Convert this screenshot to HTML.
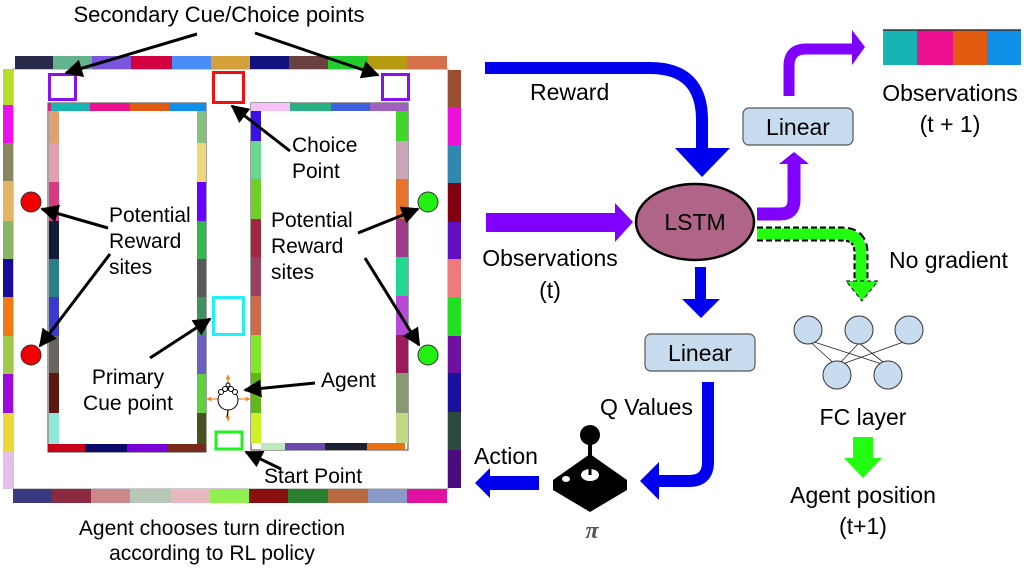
<!DOCTYPE html>
<html><head><meta charset="utf-8"><style>
html,body{margin:0;padding:0;background:#fff;}
svg{display:block;}
text{font-family:"Liberation Sans",Arial,sans-serif;fill:#000;}
</style></head><body>
<svg width="1024" height="571" viewBox="0 0 1024 571" xmlns="http://www.w3.org/2000/svg">
<defs>
<marker id="ah" viewBox="0 0 10 10" refX="9" refY="5" markerWidth="6" markerHeight="6" orient="auto-start-reverse" markerUnits="strokeWidth"><path d="M0,0 L10,5 L0,10 z" fill="#000"/></marker>
<marker id="oh" viewBox="0 0 10 10" refX="9" refY="5" markerWidth="4" markerHeight="4" orient="auto"><path d="M0,0 L10,5 L0,10 z" fill="#f08a20"/></marker>
</defs>

<rect x="13" y="69" width="435" height="420" fill="#fff" stroke="#999" stroke-width="1"/>
<g>
<rect x="15" y="56" width="38" height="13" fill="#2a2a4a"/>
<rect x="53" y="56" width="39" height="13" fill="#62b38e"/>
<rect x="92" y="56" width="39" height="13" fill="#7a55dd"/>
<rect x="131" y="56" width="41" height="13" fill="#d1003e"/>
<rect x="172" y="56" width="39" height="13" fill="#4a8cf8"/>
<rect x="211" y="56" width="39" height="13" fill="#d4a03a"/>
<rect x="250" y="56" width="39" height="13" fill="#12127e"/>
<rect x="289" y="56" width="39" height="13" fill="#6a4040"/>
<rect x="328" y="56" width="40" height="13" fill="#22cc2a"/>
<rect x="368" y="56" width="39" height="13" fill="#b59a12"/>
<rect x="407" y="56" width="40" height="13" fill="#d4704a"/>
</g>
<g>
<rect x="3" y="69" width="10" height="36" fill="#b5de2a"/>
<rect x="3" y="105" width="10" height="38" fill="#ec10ec"/>
<rect x="3" y="143" width="10" height="38" fill="#8a8660"/>
<rect x="3" y="181" width="10" height="40" fill="#e4b466"/>
<rect x="3" y="221" width="10" height="38" fill="#88b866"/>
<rect x="3" y="259" width="10" height="38" fill="#1a0a9a"/>
<rect x="3" y="297" width="10" height="39" fill="#f07a14"/>
<rect x="3" y="336" width="10" height="38" fill="#a0c84a"/>
<rect x="3" y="374" width="10" height="39" fill="#9a0ada"/>
<rect x="3" y="413" width="10" height="38" fill="#e8d838"/>
<rect x="3" y="451" width="10" height="38" fill="#e4c0e8"/>
</g>
<g>
<rect x="448" y="70" width="13" height="37" fill="#9a5030"/>
<rect x="448" y="107" width="13" height="38" fill="#ec10d8"/>
<rect x="448" y="145" width="13" height="38" fill="#3088b0"/>
<rect x="448" y="183" width="13" height="39" fill="#800010"/>
<rect x="448" y="222" width="13" height="37" fill="#6010c0"/>
<rect x="448" y="259" width="13" height="38" fill="#ee7a7a"/>
<rect x="448" y="297" width="13" height="39" fill="#20e020"/>
<rect x="448" y="336" width="13" height="37" fill="#7010a0"/>
<rect x="448" y="373" width="13" height="39" fill="#1a10a0"/>
<rect x="448" y="412" width="13" height="38" fill="#2e4a40"/>
<rect x="448" y="450" width="13" height="38" fill="#4a0a80"/>
</g>
<g>
<rect x="13" y="489" width="39" height="14" fill="#3a3a80"/>
<rect x="52" y="489" width="39" height="14" fill="#8a2a40"/>
<rect x="91" y="489" width="39" height="14" fill="#cc8888"/>
<rect x="130" y="489" width="41" height="14" fill="#b8c8b8"/>
<rect x="171" y="489" width="39" height="14" fill="#e8b8c0"/>
<rect x="210" y="489" width="39" height="14" fill="#90f050"/>
<rect x="249" y="489" width="39" height="14" fill="#8a1010"/>
<rect x="288" y="489" width="40" height="14" fill="#288030"/>
<rect x="328" y="489" width="40" height="14" fill="#b86a40"/>
<rect x="368" y="489" width="39" height="14" fill="#8a9ac8"/>
<rect x="407" y="489" width="40" height="14" fill="#e010a0"/>
</g>

<g>
<rect x="48" y="103" width="158" height="349" fill="#fff" stroke="#444" stroke-width="1"/>
<rect x="48" y="103" width="3" height="8" fill="#d02080"/>
<rect x="51" y="103" width="39" height="8" fill="#18b4b4"/>
<rect x="90" y="103" width="40" height="8" fill="#ec1090"/>
<rect x="130" y="103" width="39" height="8" fill="#e05a10"/>
<rect x="169" y="103" width="37" height="8" fill="#1090e8"/>
<rect x="49" y="111" width="10" height="32" fill="#e0a070"/>
<rect x="49" y="143" width="10" height="39" fill="#e0a0b0"/>
<rect x="49" y="182" width="10" height="39" fill="#d83a80"/>
<rect x="49" y="221" width="10" height="38" fill="#121a38"/>
<rect x="49" y="259" width="10" height="38" fill="#2a8088"/>
<rect x="49" y="297" width="10" height="39" fill="#3a3ad0"/>
<rect x="49" y="336" width="10" height="37" fill="#6a6460"/>
<rect x="49" y="373" width="10" height="40" fill="#5a1810"/>
<rect x="49" y="413" width="10" height="31" fill="#90e8d8"/>
<rect x="197" y="111" width="9" height="32" fill="#88c080"/>
<rect x="197" y="143" width="9" height="39" fill="#f0d878"/>
<rect x="197" y="182" width="9" height="39" fill="#6a00ff"/>
<rect x="197" y="221" width="9" height="38" fill="#30b850"/>
<rect x="197" y="259" width="9" height="38" fill="#5a5a5a"/>
<rect x="197" y="297" width="9" height="39" fill="#409060"/>
<rect x="197" y="336" width="9" height="38" fill="#6a60c0"/>
<rect x="197" y="374" width="9" height="39" fill="#60d040"/>
<rect x="197" y="413" width="9" height="31" fill="#4a5020"/>
<rect x="48" y="444" width="37" height="8" fill="#c8001a"/>
<rect x="85" y="444" width="42" height="8" fill="#0a0a6a"/>
<rect x="127" y="444" width="40" height="8" fill="#7a00d8"/>
<rect x="167" y="444" width="39" height="8" fill="#782a1a"/>
</g>
<g>
<rect x="251" y="103" width="157" height="347" fill="#fff" stroke="#444" stroke-width="1"/>
<rect x="251" y="103" width="39" height="8" fill="#f8c0f8"/>
<rect x="290" y="103" width="41" height="8" fill="#28b080"/>
<rect x="331" y="103" width="39" height="8" fill="#4060e0"/>
<rect x="370" y="103" width="38" height="8" fill="#a060c0"/>
<rect x="251" y="111" width="10" height="30" fill="#3a10e8"/>
<rect x="251" y="141" width="10" height="38" fill="#68d890"/>
<rect x="251" y="179" width="10" height="40" fill="#70d028"/>
<rect x="251" y="219" width="10" height="38" fill="#a02840"/>
<rect x="251" y="257" width="10" height="39" fill="#9a4060"/>
<rect x="251" y="296" width="10" height="39" fill="#cc6a4a"/>
<rect x="251" y="335" width="10" height="38" fill="#80e828"/>
<rect x="251" y="373" width="10" height="40" fill="#60b818"/>
<rect x="251" y="413" width="10" height="30" fill="#d0f028"/>
<rect x="396" y="111" width="12" height="30" fill="#40d828"/>
<rect x="396" y="141" width="12" height="38" fill="#c8a8b8"/>
<rect x="396" y="179" width="12" height="40" fill="#e8742a"/>
<rect x="396" y="219" width="12" height="38" fill="#a03a8a"/>
<rect x="396" y="257" width="12" height="39" fill="#20d890"/>
<rect x="396" y="296" width="12" height="39" fill="#b848d8"/>
<rect x="396" y="335" width="12" height="38" fill="#9a1a5a"/>
<rect x="396" y="373" width="12" height="40" fill="#889a70"/>
<rect x="396" y="413" width="12" height="30" fill="#c0d888"/>
<rect x="261" y="443" width="24" height="7" fill="#c0e8c0"/>
<rect x="285" y="443" width="40" height="7" fill="#6a48b0"/>
<rect x="325" y="443" width="42" height="7" fill="#1a2030"/>
<rect x="367" y="443" width="38" height="7" fill="#e87010"/>
</g>

<rect x="49.5" y="74.5" width="26" height="25" fill="none" stroke="#8a10f0" stroke-width="3"/>
<rect x="382.5" y="74.5" width="26" height="25" fill="none" stroke="#8a10f0" stroke-width="3"/>
<rect x="213.5" y="72.5" width="30" height="30" fill="none" stroke="#f01010" stroke-width="3"/>
<rect x="213.5" y="297.5" width="30" height="37" fill="none" stroke="#20f0f8" stroke-width="3"/>
<rect x="216" y="432" width="26" height="17" fill="none" stroke="#20f020" stroke-width="3"/>
<circle cx="31" cy="202" r="10" fill="#f00000" stroke="#333" stroke-width="1"/>
<circle cx="31" cy="355" r="10" fill="#f00000" stroke="#333" stroke-width="1"/>
<circle cx="428" cy="202" r="10" fill="#22f010" stroke="#333" stroke-width="1"/>
<circle cx="428" cy="355" r="10" fill="#22f010" stroke="#333" stroke-width="1"/>

<g stroke="#f08a20" stroke-width="1.2" fill="none">
<line x1="228" y1="388" x2="228" y2="375" marker-end="url(#oh)"/>
<line x1="228" y1="408" x2="228" y2="421" marker-end="url(#oh)"/>
<line x1="219" y1="399" x2="207" y2="399" marker-end="url(#oh)"/>
<line x1="237" y1="399" x2="250" y2="399" marker-end="url(#oh)"/>
</g>
<g stroke="#000" stroke-width="1" fill="#fff">
<circle cx="228" cy="400" r="10"/>
<circle cx="221" cy="392" r="2.5"/><circle cx="235" cy="392" r="2.5"/>
<circle cx="225" cy="389" r="2.5"/><circle cx="231" cy="389" r="2.5"/>
<circle cx="228" cy="385" r="2"/>
<line x1="228" y1="410" x2="227" y2="417"/>
</g>

<g stroke="#000" stroke-width="3" fill="none" marker-end="url(#ah)">
<line x1="197" y1="34" x2="66" y2="73"/>
<line x1="255" y1="33" x2="378" y2="75"/>
<line x1="290" y1="151" x2="232" y2="106"/>
<line x1="108" y1="228" x2="42" y2="209"/>
<line x1="110" y1="254" x2="40" y2="346"/>
<line x1="358" y1="233" x2="418" y2="209"/>
<line x1="365" y1="258" x2="419" y2="345"/>
<line x1="150" y1="358" x2="210" y2="319"/>
<line x1="315" y1="383" x2="245" y2="390"/>
<line x1="281" y1="469" x2="246" y2="452"/>
</g>

<g font-size="21">
<text x="219" y="22" font-size="22" text-anchor="middle">Secondary Cue/Choice points</text>
<text x="109" y="222">Potential</text>
<text x="109" y="248">Reward</text>
<text x="109" y="274">sites</text>
<text x="292" y="152">Choice</text>
<text x="292" y="178">Point</text>
<text x="271" y="227">Potential</text>
<text x="271" y="253">Reward</text>
<text x="271" y="279">sites</text>
<text x="128" y="384" text-anchor="middle">Primary</text>
<text x="128" y="410" text-anchor="middle">Cue point</text>
<text x="321" y="387">Agent</text>
<text x="264" y="483">Start Point</text>
<text x="212" y="535" text-anchor="middle">Agent chooses turn direction</text>
<text x="212" y="560" text-anchor="middle">according to RL policy</text>
</g>

<path d="M485,68 H650 Q702,68 702,120 V149" fill="none" stroke="#0000ee" stroke-width="12"/>
<polygon points="675,148 730,148 702,177" fill="#0000ee"/>
<rect x="486" y="213" width="130" height="19" fill="#8000ff"/>
<polygon points="615,203 633,222 615,242" fill="#8000ff"/>
<path d="M757,214 H780 Q794,214 794,200 V162" fill="none" stroke="#8000ff" stroke-width="13"/>
<polygon points="779,164 794,152 809,164" fill="#8000ff"/>
<path d="M789,96 V66 Q789,49 806,49 H853" fill="none" stroke="#8000ff" stroke-width="11"/>
<polygon points="852,30 865,47 852,65" fill="#8000ff"/>
<path d="M757,234 H842 Q861,234 861,253 V282" fill="none" stroke="#000" stroke-width="15" stroke-dasharray="6,3"/>
<path d="M757,234 H842 Q861,234 861,253 V284" fill="none" stroke="#22ff10" stroke-width="11"/>
<polygon points="846,281 878,281 862,301" fill="#22ff10" stroke="#000" stroke-width="1" stroke-dasharray="4,3"/>
<rect x="695" y="267" width="11" height="33" fill="#0000ee"/>
<polygon points="682,299 720,299 701,318" fill="#0000ee"/>
<path d="M708,382 V462 Q708,481 689,481 H658" fill="none" stroke="#0000ee" stroke-width="12"/>
<polygon points="659,462 640,481 659,500" fill="#0000ee"/>
<rect x="488" y="476" width="51" height="14" fill="#0000ee"/>
<polygon points="490,468 475,483 490,498" fill="#0000ee"/>
<rect x="853" y="437" width="20" height="22" fill="#22ff10"/>
<polygon points="844,458 882,458 863,478" fill="#22ff10"/>

<ellipse cx="695" cy="222" rx="59" ry="38" fill="#b06488" stroke="#000" stroke-width="2.5"/>
<text x="695" y="230" font-size="23" text-anchor="middle">LSTM</text>
<rect x="743" y="108" width="110" height="37" rx="6" fill="#c8dcf0" stroke="#555" stroke-width="1.2"/>
<text x="798" y="135" font-size="23" text-anchor="middle">Linear</text>
<rect x="645" y="334" width="110" height="37" rx="6" fill="#c8dcf0" stroke="#555" stroke-width="1.2"/>
<text x="700" y="361" font-size="23" text-anchor="middle">Linear</text>

<rect x="883" y="30" width="34" height="35" fill="#18b4b4"/>
<rect x="917" y="30" width="36" height="35" fill="#ec1090"/>
<rect x="953" y="30" width="34" height="35" fill="#e05a10"/>
<rect x="987" y="30" width="34" height="35" fill="#1090e8"/>
<line x1="883" y1="30" x2="1021" y2="30" stroke="#333" stroke-width="1.5"/>

<g stroke="#222" stroke-width="0.8">
<line x1="808" y1="340" x2="888" y2="366"/>
<line x1="808" y1="340" x2="837" y2="366"/>
<line x1="859" y1="343" x2="837" y2="366"/>
<line x1="859" y1="343" x2="888" y2="366"/>
<line x1="909" y1="340" x2="837" y2="366"/>
</g>
<g fill="#c8dcf0" stroke="#333" stroke-width="1">
<circle cx="808" cy="330" r="14"/><circle cx="859" cy="330" r="14"/><circle cx="909" cy="330" r="14"/>
<circle cx="837" cy="375" r="14"/><circle cx="888" cy="375" r="14"/>
</g>

<polygon points="553,480 590,454 627,480 627,490 590,512 553,490" fill="#000"/>
<line x1="590" y1="440" x2="590" y2="470" stroke="#000" stroke-width="4"/>
<circle cx="590" cy="435" r="10" fill="#000"/>
<ellipse cx="590" cy="475" rx="9" ry="6" fill="#fff"/>
<line x1="590" y1="462" x2="590" y2="475" stroke="#000" stroke-width="3"/>
<ellipse cx="566" cy="479" rx="4" ry="3" fill="#fff"/>
<text x="592" y="538" font-size="24" font-style="italic" font-weight="bold" text-anchor="middle" style="fill:#555;font-family:'Liberation Serif',serif">π</text>

<g font-size="23">
<text x="530" y="100">Reward</text>
<text x="950" y="101" text-anchor="middle">Observations</text>
<text x="950" y="132" text-anchor="middle">(t + 1)</text>
<text x="550" y="266" text-anchor="middle">Observations</text>
<text x="550" y="298" text-anchor="middle">(t)</text>
<text x="889" y="268">No gradient</text>
<text x="600" y="415">Q Values</text>
<text x="474" y="464">Action</text>
<text x="863" y="425" text-anchor="middle">FC layer</text>
<text x="863" y="503" text-anchor="middle">Agent position</text>
<text x="863" y="534" text-anchor="middle">(t+1)</text>
</g>
</svg>
</body></html>
